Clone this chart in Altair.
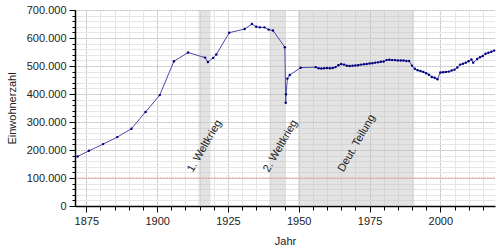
import altair as alt
import pandas as pd

# population (thousands)
years = [1871.92, 1875.92, 1880.92, 1885.92, 1890.92, 1895.92, 1900.92, 1905.92, 1910.92,
         1916.92, 1917.92, 1919.77, 1920.9, 1925.46, 1930.9, 1933.46, 1935.0, 1936.3, 1937.9,
         1939.37, 1940.9, 1945.1, 1945.4, 1945.5, 1946.0, 1946.83, 1950.67,
         1955.99, 1956.99, 1957.99, 1958.99, 1959.99, 1960.99, 1961.99, 1962.99, 1963.99,
         1964.99, 1965.99, 1966.99, 1967.99, 1968.99, 1969.99, 1970.99, 1971.99, 1972.99,
         1973.99, 1974.99, 1975.99, 1976.99, 1977.99, 1978.99, 1979.99, 1980.99, 1981.99,
         1982.99, 1983.99, 1984.99, 1985.99, 1986.99, 1987.99, 1988.99, 1989.99, 1990.99,
         1991.99, 1992.99, 1993.99, 1994.99, 1995.99, 1996.99, 1997.99, 1998.99, 1999.99,
         2000.99, 2001.99, 2002.99, 2003.99, 2004.99, 2005.99, 2006.99, 2007.99, 2008.99,
         2009.99, 2010.99, 2011.6, 2012.99, 2013.99, 2014.99, 2015.99, 2016.99, 2017.99,
         2018.99]
pop_k = [177, 197, 221, 246, 276, 336, 396, 517, 548,
         530, 514, 529, 541, 619, 632, 650, 640, 638, 638,
         630, 627, 567, 369, 399, 455, 468, 494,
         496, 492, 491, 492, 493, 492, 493, 496, 503,
         507, 505, 501, 500, 501, 502, 503, 505, 506,
         507, 509, 510, 512, 513, 515, 516, 521, 522,
         521, 521, 520, 520, 520, 518, 518, 501, 490,
         485, 482, 479, 474, 469, 461, 458, 453, 477,
         478, 479, 480, 484, 487, 495, 505, 508, 512,
         517, 523, 512, 525, 531, 536, 544, 547, 551,
         555]

band_start = [1914.58, 1939.67, 1949.77]
band_end = [1918.86, 1945.35, 1990.76]

label_text = ["1. Weltkrieg", "2. Weltkrieg", "Deut. Teilung"]
label_year = [1916.8, 1943.6, 1970.5]
label_val = [214000, 214000, 224000]

ref_value = [100000]

major_x = [1875, 1900, 1925, 1950, 1975, 2000]
minor_x = list(range(1875, 2020, 5))
major_y = [0, 100000, 200000, 300000, 400000, 500000, 600000, 700000]
minor_y = list(range(0, 700001, 20000))

df = pd.DataFrame({"Jahr": years, "Einwohner": [v * 1000 for v in pop_k]})
bands = pd.DataFrame({"start": band_start, "end": band_end})
labels = pd.DataFrame({"text": label_text, "x": label_year, "y": label_val})
refdf = pd.DataFrame({"v": ref_value})

xs = alt.Scale(domain=[1871, 2019.3], nice=False, zero=False)
ys = alt.Scale(domain=[0, 700000], nice=False)

FONT = "Liberation Sans"

minor = alt.Chart(df).mark_point(opacity=0).encode(
    x=alt.X("Jahr:Q", scale=xs, axis=alt.Axis(
        values=minor_x, grid=True, gridColor="#e6e6e6", gridWidth=1, labels=False,
        ticks=True, tickSize=4, tickColor="#000", domain=False, title=None,
        orient="bottom")),
    y=alt.Y("Einwohner:Q", scale=ys, axis=alt.Axis(
        values=minor_y, grid=True, gridColor="#e6e6e6", gridWidth=1, labels=False,
        ticks=True, tickSize=3, tickColor="#000", domain=False, title=None,
        orient="left")),
)

rect = alt.Chart(bands).mark_rect(color="#c0c0c0", opacity=0.45).encode(
    x=alt.X("start:Q", scale=xs, axis=None),
    x2="end:Q",
)

redline = alt.Chart(refdf).mark_rule(color="#f29a9a", strokeWidth=1, strokeDash=[2, 1]).encode(
    y=alt.Y("v:Q", scale=ys, axis=None),
)

line = alt.Chart(df).mark_line(color="#4b4bab", strokeWidth=1).encode(
    x=alt.X("Jahr:Q", scale=xs, axis=alt.Axis(
        values=major_x, grid=True, gridColor="#aaaaaa", gridDash=[1, 2], gridWidth=1,
        format="d", tickSize=6, tickColor="#000", domainColor="#000", domainWidth=1.5,
        labelFont=FONT, labelFontSize=11, labelColor="#222", labelPadding=3,
        title="Jahr", titleFont=FONT, titleFontSize=11, titleFontWeight="normal",
        titleColor="#222", titlePadding=9, orient="bottom")),
    y=alt.Y("Einwohner:Q", scale=ys, axis=alt.Axis(
        values=major_y, grid=True, gridColor="#aaaaaa", gridDash=[1, 2], gridWidth=1,
        labelExpr="replace(format(datum.value, ','), ',', '.')",
        tickSize=6, tickColor="#000", domainColor="#000", domainWidth=1.5,
        labelFont=FONT, labelFontSize=11, labelColor="#222", labelPadding=3,
        title="Einwohnerzahl", titleFont=FONT, titleFontSize=11, titleFontWeight="normal",
        titleColor="#222", titleX=-58, titleY=98, orient="left")),
)

points = alt.Chart(df).mark_circle(color="#000080", size=6, opacity=1).encode(
    x=alt.X("Jahr:Q", scale=xs, axis=None),
    y=alt.Y("Einwohner:Q", scale=ys, axis=None),
)

text = alt.Chart(labels).mark_text(angle=300, font=FONT, fontSize=11, color="#222").encode(
    x=alt.X("x:Q", scale=xs, axis=None),
    y=alt.Y("y:Q", scale=ys, axis=None),
    text="text:N",
)

chart = alt.layer(minor, rect, redline, line, points, text).resolve_axis(
    x="independent", y="independent"
).properties(
    width=420, height=196,
    autosize=alt.AutoSizeParams(type="none"),
    padding={"left": 75, "top": 10, "right": 5, "bottom": 44},
    background="white",
).configure_view(stroke=None)

chart.save("out.html", embed_options={"renderer": "svg", "actions": False})
